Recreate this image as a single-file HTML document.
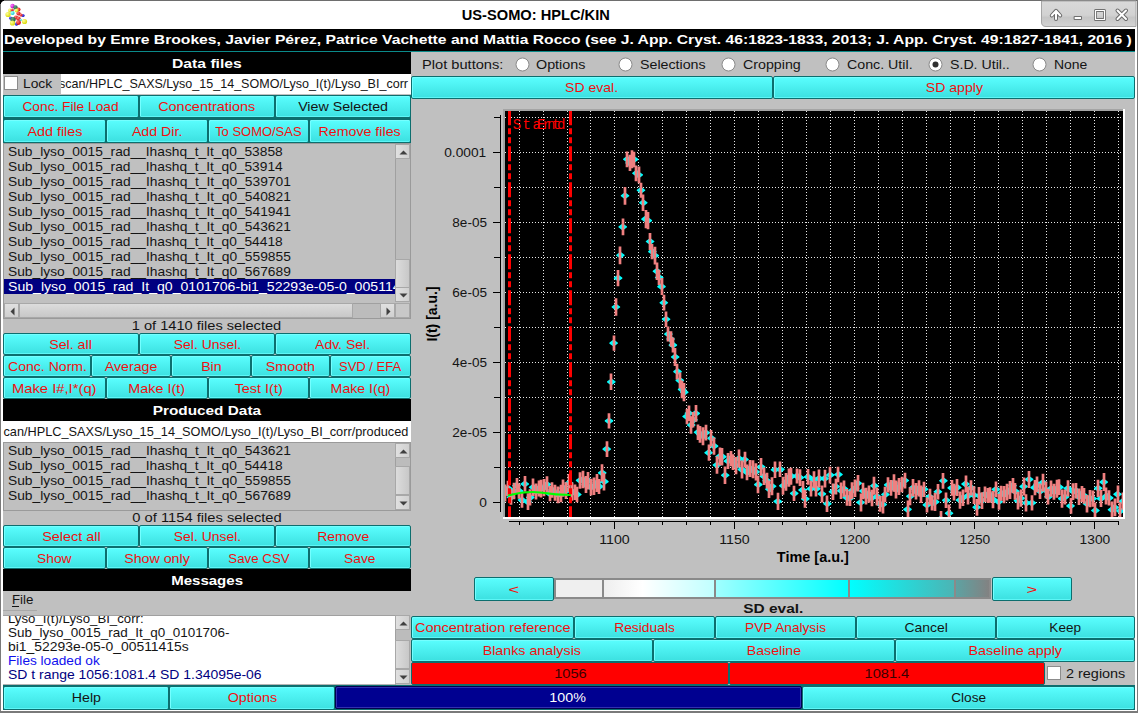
<!DOCTYPE html><html><head><meta charset="utf-8"><title>US-SOMO: HPLC/KIN</title><style>*{margin:0;padding:0}html,body{width:1138px;height:713px;overflow:hidden;background:#fff}
#r div{position:absolute}
.t{font-family:"Liberation Sans",sans-serif;white-space:pre}
</style></head><body><div id="r" style="position:relative;width:1138px;height:713px;overflow:hidden"><div style="left:0px;top:0px;width:1138px;height:713px;background:#fff;"></div>
<div style="left:3px;top:29px;width:1132px;height:681px;background:#c0c0c0;"></div>
<div style="left:0px;top:0px;width:1138px;height:1px;background:#6e6e6e;"></div>
<div style="left:0px;top:0px;width:1px;height:713px;background:#7a7a7a;"></div>
<div style="left:1137px;top:0px;width:1px;height:713px;background:#7a7a7a;"></div>
<div style="left:1136px;top:29px;width:1px;height:682px;background:#ffffff;"></div>
<div style="left:0px;top:711px;width:1138px;height:2px;background:#7a7a7a;"></div>
<div style="left:0px;top:0px;width:4px;height:1px;background:#000;"></div>
<div style="left:0px;top:1px;width:2px;height:1px;background:#000;"></div>
<div style="left:0px;top:2px;width:1px;height:2px;background:#000;"></div>
<div style="left:2px;top:1px;width:1px;height:1px;background:#888;"></div>
<div style="left:1px;top:2px;width:1px;height:1px;background:#888;"></div>
<svg width="1138" height="30" style="position:absolute;left:0;top:0"><defs><linearGradient id="tg" x1="0" y1="0" x2="0" y2="1"><stop offset="0" stop-color="#d9d9d9"/><stop offset="0.55" stop-color="#d2d2d2"/><stop offset="0.65" stop-color="#c6c6c6"/><stop offset="1" stop-color="#d4d4d4"/></linearGradient><radialGradient id="bY" cx="0.35" cy="0.35" r="0.7"><stop offset="0" stop-color="#ffff99"/><stop offset="1" stop-color="#d8d800"/></radialGradient><radialGradient id="bR" cx="0.35" cy="0.35" r="0.7"><stop offset="0" stop-color="#ff8080"/><stop offset="1" stop-color="#d00000"/></radialGradient><radialGradient id="bB" cx="0.35" cy="0.35" r="0.7"><stop offset="0" stop-color="#8080ff"/><stop offset="1" stop-color="#0000c0"/></radialGradient><radialGradient id="bG" cx="0.35" cy="0.35" r="0.7"><stop offset="0" stop-color="#60a080"/><stop offset="1" stop-color="#1f6040"/></radialGradient><radialGradient id="bC" cx="0.35" cy="0.35" r="0.7"><stop offset="0" stop-color="#b0ffff"/><stop offset="1" stop-color="#00c8c8"/></radialGradient><radialGradient id="bM" cx="0.35" cy="0.35" r="0.7"><stop offset="0" stop-color="#ff80ff"/><stop offset="1" stop-color="#c000c0"/></radialGradient></defs><path d="M1041.5 1 V22 Q1041.5 26.5 1046 26.5 H1136 V1 Z" fill="url(#tg)" stroke="#a6a6a6" stroke-width="1"/><g stroke-linejoin="round" stroke-linecap="round"><path d="M1051.8 15.5 L1056 10.8 L1060.2 15.5 M1056 11.5 V19" fill="none" stroke="#6a6a6a" stroke-width="4"/><path d="M1051.8 15.5 L1056 10.8 L1060.2 15.5 M1056 11.5 V19" fill="none" stroke="#ffffff" stroke-width="2"/><rect x="1074.5" y="16.5" width="7" height="3" fill="#fff" stroke="#707070" stroke-width="1"/><rect x="1095.5" y="10.5" width="9" height="9" fill="none" stroke="#707070" stroke-width="3"/><rect x="1095.5" y="10.5" width="9" height="9" fill="none" stroke="#ffffff" stroke-width="1.2"/><path d="M1117.5 10.5 L1126 19 M1126 10.5 L1117.5 19" stroke="#6a6a6a" stroke-width="4"/><path d="M1117.5 10.5 L1126 19 M1126 10.5 L1117.5 19" stroke="#ffffff" stroke-width="2"/></g><g><circle cx="12.5" cy="6" r="2.2" fill="url(#bM)"/><circle cx="15.5" cy="7.5" r="2.2" fill="url(#bG)"/><circle cx="18.5" cy="9.5" r="2" fill="url(#bR)"/><circle cx="10" cy="10.5" r="1.9" fill="url(#bY)"/><circle cx="16.5" cy="10.5" r="1.9" fill="url(#bY)"/><circle cx="12.2" cy="10" r="1.6" fill="url(#bR)"/><circle cx="12.5" cy="13" r="2.1" fill="url(#bC)"/><circle cx="8" cy="14.5" r="2.6" fill="url(#bY)"/><circle cx="18.5" cy="13.5" r="2.1" fill="url(#bR)"/><circle cx="23" cy="15.5" r="1.6" fill="url(#bB)"/><circle cx="21" cy="15" r="1.6" fill="url(#bR)"/><circle cx="10.5" cy="18" r="1.6" fill="url(#bB)"/><circle cx="16" cy="17.5" r="2.1" fill="url(#bR)"/><circle cx="13" cy="19.5" r="2.6" fill="url(#bG)"/><circle cx="18.5" cy="18.5" r="2.1" fill="url(#bR)"/><circle cx="20.5" cy="20" r="1.2" fill="url(#bC)"/><circle cx="24.5" cy="21.5" r="2.6" fill="url(#bY)"/><circle cx="12.5" cy="23" r="2.6" fill="url(#bY)"/><circle cx="16.5" cy="24" r="1.7" fill="url(#bB)"/><circle cx="18.5" cy="22.5" r="2.4" fill="url(#bR)"/></g></svg>
<div class="t" style="left:465.23px;top:6.65px;line-height:17px;font-size:14px;color:#000;transform:scaleX(1.0456);transform-origin:50% 0;font-weight:bold;">US-SOMO: HPLC/KIN</div>
<div style="left:3px;top:29px;width:1132px;height:22px;background:#000;"></div>
<div style="left:3px;top:51px;width:1132px;height:1px;background:#0a8a8a;"></div>
<div class="t" style="left:4px;top:32.2px;line-height:16px;font-size:13px;color:#fff;transform:scaleX(1.2056);transform-origin:0 0;font-weight:bold;">Developed by Emre Brookes, Javier Pérez, Patrice Vachette and Mattia Rocco (see J. App. Cryst. 46:1823-1833, 2013; J. App. Cryst. 49:1827-1841, 2016 )</div>
<div style="left:3px;top:52px;width:408px;height:22px;background:#000;"></div>
<div class="t" style="left:178.09px;top:55.7px;line-height:16px;font-size:13px;color:#fff;transform:scaleX(1.2059);transform-origin:50% 0;font-weight:bold;">Data files</div>
<div style="left:4px;top:76px;width:14px;height:14px;background:#fff;border:1px solid #8c8c8c;box-sizing:border-box;"></div>
<div class="t" style="left:23px;top:75.5px;line-height:16px;font-size:13px;color:#141414;transform:scaleX(1.0620);transform-origin:0 0;">Lock</div>
<div style="left:61px;top:74px;width:350px;height:20px;overflow:hidden;background:#fff;">
<div class="t" style="left:-15.08px;top:1.5px;line-height:16px;font-size:13px;color:#141414;transform:scaleX(0.9639);transform-origin:100% 0;">scan/HPLC_SAXS/Lyso_15_14_SOMO/Lyso_I(t)/Lyso_BI_corr</div>
</div>
<div style="left:3px;top:95px;width:408px;height:48px;background:#0c6e6e;"></div>
<div style="left:3px;top:95px;width:136px;height:23px;border:1px solid #0c6e6e;border-radius:2px;box-sizing:border-box;background:linear-gradient(#5afefe,#3ce0e0);box-shadow:inset 1px 1px 0 #74ffff, inset 0 -1px 0 #5cf6f6;"></div>
<div class="t" style="left:25.46px;top:99.2px;line-height:16px;font-size:13px;color:#f01010;transform:scaleX(1.0564);transform-origin:50% 0;">Conc. File Load</div>
<div style="left:139px;top:95px;width:136px;height:23px;border:1px solid #0c6e6e;border-radius:2px;box-sizing:border-box;background:linear-gradient(#5afefe,#3ce0e0);box-shadow:inset 1px 1px 0 #74ffff, inset 0 -1px 0 #5cf6f6;"></div>
<div class="t" style="left:163.27px;top:99.2px;line-height:16px;font-size:13px;color:#f01010;transform:scaleX(1.1113);transform-origin:50% 0;">Concentrations</div>
<div style="left:275px;top:95px;width:136px;height:23px;border:1px solid #0c6e6e;border-radius:2px;box-sizing:border-box;background:linear-gradient(#5afefe,#3ce0e0);box-shadow:inset 1px 1px 0 #74ffff, inset 0 -1px 0 #5cf6f6;"></div>
<div class="t" style="left:301.91px;top:99.2px;line-height:16px;font-size:13px;color:#141414;transform:scaleX(1.0943);transform-origin:50% 0;">View Selected</div>
<div style="left:3px;top:119px;width:103px;height:24px;border:1px solid #0c6e6e;border-radius:2px;box-sizing:border-box;background:linear-gradient(#5afefe,#3ce0e0);box-shadow:inset 1px 1px 0 #74ffff, inset 0 -1px 0 #5cf6f6;"></div>
<div class="t" style="left:29.56px;top:123.7px;line-height:16px;font-size:13px;color:#f01010;transform:scaleX(1.1031);transform-origin:50% 0;">Add files</div>
<div style="left:106px;top:119px;width:102px;height:24px;border:1px solid #0c6e6e;border-radius:2px;box-sizing:border-box;background:linear-gradient(#5afefe,#3ce0e0);box-shadow:inset 1px 1px 0 #74ffff, inset 0 -1px 0 #5cf6f6;"></div>
<div class="t" style="left:133.88px;top:123.7px;line-height:16px;font-size:13px;color:#f01010;transform:scaleX(1.0902);transform-origin:50% 0;">Add Dir.</div>
<div style="left:208px;top:119px;width:101px;height:24px;border:1px solid #0c6e6e;border-radius:2px;box-sizing:border-box;background:linear-gradient(#5afefe,#3ce0e0);box-shadow:inset 1px 1px 0 #74ffff, inset 0 -1px 0 #5cf6f6;"></div>
<div class="t" style="left:215.16px;top:123.7px;line-height:16px;font-size:13px;color:#f01010;transform:scaleX(0.9968);transform-origin:50% 0;">To SOMO/SAS</div>
<div style="left:309px;top:119px;width:102px;height:24px;border:1px solid #0c6e6e;border-radius:2px;box-sizing:border-box;background:linear-gradient(#5afefe,#3ce0e0);box-shadow:inset 1px 1px 0 #74ffff, inset 0 -1px 0 #5cf6f6;"></div>
<div class="t" style="left:322.42px;top:123.7px;line-height:16px;font-size:13px;color:#f01010;transform:scaleX(1.0933);transform-origin:50% 0;">Remove files</div>
<div style="left:3px;top:143px;width:408px;height:176px;background:#c0c0c0;border:1px solid #9a9a9a;box-sizing:border-box;"></div>
<div style="left:4px;top:144px;width:391px;height:158px;overflow:hidden;">
<div class="t" style="left:4px;top:-0px;line-height:16px;font-size:13px;color:#141414;transform:scaleX(1.0587);transform-origin:0 0;">Sub_lyso_0015_rad__Ihashq_t_It_q0_53858</div>
<div class="t" style="left:4px;top:15px;line-height:16px;font-size:13px;color:#141414;transform:scaleX(1.0587);transform-origin:0 0;">Sub_lyso_0015_rad__Ihashq_t_It_q0_53914</div>
<div class="t" style="left:4px;top:30px;line-height:16px;font-size:13px;color:#141414;transform:scaleX(1.0605);transform-origin:0 0;">Sub_lyso_0015_rad__Ihashq_t_It_q0_539701</div>
<div class="t" style="left:4px;top:45px;line-height:16px;font-size:13px;color:#141414;transform:scaleX(1.0605);transform-origin:0 0;">Sub_lyso_0015_rad__Ihashq_t_It_q0_540821</div>
<div class="t" style="left:4px;top:60px;line-height:16px;font-size:13px;color:#141414;transform:scaleX(1.0605);transform-origin:0 0;">Sub_lyso_0015_rad__Ihashq_t_It_q0_541941</div>
<div class="t" style="left:4px;top:75px;line-height:16px;font-size:13px;color:#141414;transform:scaleX(1.0605);transform-origin:0 0;">Sub_lyso_0015_rad__Ihashq_t_It_q0_543621</div>
<div class="t" style="left:4px;top:90px;line-height:16px;font-size:13px;color:#141414;transform:scaleX(1.0587);transform-origin:0 0;">Sub_lyso_0015_rad__Ihashq_t_It_q0_54418</div>
<div class="t" style="left:4px;top:105px;line-height:16px;font-size:13px;color:#141414;transform:scaleX(1.0605);transform-origin:0 0;">Sub_lyso_0015_rad__Ihashq_t_It_q0_559855</div>
<div class="t" style="left:4px;top:120px;line-height:16px;font-size:13px;color:#141414;transform:scaleX(1.0605);transform-origin:0 0;">Sub_lyso_0015_rad__Ihashq_t_It_q0_567689</div>
<div style="left:0px;top:135px;width:391px;height:15px;background:#000080;"></div>
<div class="t" style="left:4px;top:135px;line-height:16px;font-size:13px;color:#fff;transform:scaleX(1.0849);transform-origin:0 0;">Sub_lyso_0015_rad_It_q0_0101706-bi1_52293e-05-0_00511415s</div>
</div>
<div style="left:395px;top:144px;width:15px;height:158px;background:#bcbcbc;border-left:1px solid #a0a0a0;box-sizing:border-box;"></div>
<div style="left:395px;top:144px;width:15px;height:15px;background:linear-gradient(90deg,#e0e0e0,#d0d0d0);border:1px solid #a8a8a8;box-sizing:border-box;"><svg width="15" height="15" style="position:absolute;left:0;top:0"><path d="M3.5 9.5 L7.5 5.5 L11.5 9.5Z" fill="#404040"/></svg></div>
<div style="left:395px;top:287px;width:15px;height:15px;background:linear-gradient(90deg,#e0e0e0,#d0d0d0);border:1px solid #a8a8a8;box-sizing:border-box;"><svg width="15" height="15" style="position:absolute;left:0;top:0"><path d="M3.5 5.5 L7.5 9.5 L11.5 5.5Z" fill="#404040"/></svg></div>
<div style="left:395px;top:259px;width:15px;height:29px;background:linear-gradient(90deg,#dcdcdc,#c8c8c8);border:1px solid #a8a8a8;box-sizing:border-box;"></div>
<div style="left:4px;top:303px;width:391px;height:15px;background:#bcbcbc;border-top:1px solid #a0a0a0;box-sizing:border-box;"></div>
<div style="left:4px;top:303px;width:15px;height:15px;background:linear-gradient(#e0e0e0,#d0d0d0);border:1px solid #a8a8a8;box-sizing:border-box;"><svg width="15" height="15" style="position:absolute;left:0;top:0"><path d="M9.5 3.5 L5.5 7.5 L9.5 11.5Z" fill="#404040"/></svg></div>
<div style="left:19px;top:303px;width:334px;height:15px;background:linear-gradient(#dcdcdc,#c8c8c8);border:1px solid #a8a8a8;box-sizing:border-box;"></div>
<div style="left:380px;top:303px;width:15px;height:15px;background:linear-gradient(#e0e0e0,#d0d0d0);border:1px solid #a8a8a8;box-sizing:border-box;"><svg width="15" height="15" style="position:absolute;left:0;top:0"><path d="M5.5 3.5 L9.5 7.5 L5.5 11.5Z" fill="#404040"/></svg></div>
<div style="left:395px;top:303px;width:15px;height:15px;background:#c8c8c8;border:1px solid #a8a8a8;box-sizing:border-box;"></div>
<div class="t" style="left:140.49px;top:317.5px;line-height:16px;font-size:13px;color:#141414;transform:scaleX(1.1238);transform-origin:50% 0;">1 of 1410 files selected</div>
<div style="left:3px;top:333px;width:136px;height:22px;border:1px solid #0c6e6e;border-radius:2px;box-sizing:border-box;background:linear-gradient(#5afefe,#3ce0e0);box-shadow:inset 1px 1px 0 #74ffff, inset 0 -1px 0 #5cf6f6;"></div>
<div class="t" style="left:51.48px;top:336.7px;line-height:16px;font-size:13px;color:#f01010;transform:scaleX(1.0929);transform-origin:50% 0;">Sel. all</div>
<div style="left:139px;top:333px;width:136px;height:22px;border:1px solid #0c6e6e;border-radius:2px;box-sizing:border-box;background:linear-gradient(#5afefe,#3ce0e0);box-shadow:inset 1px 1px 0 #74ffff, inset 0 -1px 0 #5cf6f6;"></div>
<div class="t" style="left:175.56px;top:336.7px;line-height:16px;font-size:13px;color:#f01010;transform:scaleX(1.0708);transform-origin:50% 0;">Sel. Unsel.</div>
<div style="left:275px;top:333px;width:136px;height:22px;border:1px solid #0c6e6e;border-radius:2px;box-sizing:border-box;background:linear-gradient(#5afefe,#3ce0e0);box-shadow:inset 1px 1px 0 #74ffff, inset 0 -1px 0 #5cf6f6;"></div>
<div class="t" style="left:317.47px;top:336.7px;line-height:16px;font-size:13px;color:#f01010;transform:scaleX(1.0768);transform-origin:50% 0;">Adv. Sel.</div>
<div style="left:3px;top:355px;width:88px;height:22px;border:1px solid #0c6e6e;border-radius:2px;box-sizing:border-box;background:linear-gradient(#5afefe,#3ce0e0);box-shadow:inset 1px 1px 0 #74ffff, inset 0 -1px 0 #5cf6f6;"></div>
<div class="t" style="left:10.52px;top:358.7px;line-height:16px;font-size:13px;color:#f01010;transform:scaleX(1.0829);transform-origin:50% 0;">Conc. Norm.</div>
<div style="left:91px;top:355px;width:80px;height:22px;border:1px solid #0c6e6e;border-radius:2px;box-sizing:border-box;background:linear-gradient(#5afefe,#3ce0e0);box-shadow:inset 1px 1px 0 #74ffff, inset 0 -1px 0 #5cf6f6;"></div>
<div class="t" style="left:106.9px;top:358.7px;line-height:16px;font-size:13px;color:#f01010;transform:scaleX(1.0904);transform-origin:50% 0;">Average</div>
<div style="left:171px;top:355px;width:80px;height:22px;border:1px solid #0c6e6e;border-radius:2px;box-sizing:border-box;background:linear-gradient(#5afefe,#3ce0e0);box-shadow:inset 1px 1px 0 #74ffff, inset 0 -1px 0 #5cf6f6;"></div>
<div class="t" style="left:201.6px;top:358.7px;line-height:16px;font-size:13px;color:#f01010;transform:scaleX(1.0881);transform-origin:50% 0;">Bin</div>
<div style="left:251px;top:355px;width:79px;height:22px;border:1px solid #0c6e6e;border-radius:2px;box-sizing:border-box;background:linear-gradient(#5afefe,#3ce0e0);box-shadow:inset 1px 1px 0 #74ffff, inset 0 -1px 0 #5cf6f6;"></div>
<div class="t" style="left:268.09px;top:358.7px;line-height:16px;font-size:13px;color:#f01010;transform:scaleX(1.1018);transform-origin:50% 0;">Smooth</div>
<div style="left:330px;top:355px;width:81px;height:22px;border:1px solid #0c6e6e;border-radius:2px;box-sizing:border-box;background:linear-gradient(#5afefe,#3ce0e0);box-shadow:inset 1px 1px 0 #74ffff, inset 0 -1px 0 #5cf6f6;"></div>
<div class="t" style="left:339.44px;top:358.7px;line-height:16px;font-size:13px;color:#f01010;transform:scaleX(1.0010);transform-origin:50% 0;">SVD / EFA</div>
<div style="left:3px;top:377px;width:103px;height:22px;border:1px solid #0c6e6e;border-radius:2px;box-sizing:border-box;background:linear-gradient(#5afefe,#3ce0e0);box-shadow:inset 1px 1px 0 #74ffff, inset 0 -1px 0 #5cf6f6;"></div>
<div class="t" style="left:17.29px;top:380.7px;line-height:16px;font-size:13px;color:#f01010;transform:scaleX(1.1375);transform-origin:50% 0;">Make I#,I*(q)</div>
<div style="left:106px;top:377px;width:102px;height:22px;border:1px solid #0c6e6e;border-radius:2px;box-sizing:border-box;background:linear-gradient(#5afefe,#3ce0e0);box-shadow:inset 1px 1px 0 #74ffff, inset 0 -1px 0 #5cf6f6;"></div>
<div class="t" style="left:131.36px;top:380.7px;line-height:16px;font-size:13px;color:#f01010;transform:scaleX(1.1033);transform-origin:50% 0;">Make I(t)</div>
<div style="left:208px;top:377px;width:101px;height:22px;border:1px solid #0c6e6e;border-radius:2px;box-sizing:border-box;background:linear-gradient(#5afefe,#3ce0e0);box-shadow:inset 1px 1px 0 #74ffff, inset 0 -1px 0 #5cf6f6;"></div>
<div class="t" style="left:236.84px;top:380.7px;line-height:16px;font-size:13px;color:#f01010;transform:scaleX(1.1093);transform-origin:50% 0;">Test I(t)</div>
<div style="left:309px;top:377px;width:102px;height:22px;border:1px solid #0c6e6e;border-radius:2px;box-sizing:border-box;background:linear-gradient(#5afefe,#3ce0e0);box-shadow:inset 1px 1px 0 #74ffff, inset 0 -1px 0 #5cf6f6;"></div>
<div class="t" style="left:332.55px;top:380.7px;line-height:16px;font-size:13px;color:#f01010;transform:scaleX(1.0871);transform-origin:50% 0;">Make I(q)</div>
<div style="left:3px;top:399px;width:408px;height:22px;background:#000;"></div>
<div class="t" style="left:161.12px;top:402.7px;line-height:16px;font-size:13px;color:#fff;transform:scaleX(1.1809);transform-origin:50% 0;font-weight:bold;">Produced Data</div>
<div style="left:3px;top:421px;width:408px;height:21px;overflow:hidden;background:#fff;">
<div class="t" style="left:-8.42px;top:2.5px;line-height:16px;font-size:13px;color:#141414;transform:scaleX(0.9796);transform-origin:100% 0;">can/HPLC_SAXS/Lyso_15_14_SOMO/Lyso_I(t)/Lyso_BI_corr/produced</div>
</div>
<div style="left:3px;top:442px;width:408px;height:69px;background:#c0c0c0;border:1px solid #9a9a9a;box-sizing:border-box;"></div>
<div style="left:4px;top:443px;width:391px;height:67px;overflow:hidden;">
<div class="t" style="left:4px;top:-0px;line-height:16px;font-size:13px;color:#141414;transform:scaleX(1.0605);transform-origin:0 0;">Sub_lyso_0015_rad__Ihashq_t_It_q0_543621</div>
<div class="t" style="left:4px;top:15px;line-height:16px;font-size:13px;color:#141414;transform:scaleX(1.0587);transform-origin:0 0;">Sub_lyso_0015_rad__Ihashq_t_It_q0_54418</div>
<div class="t" style="left:4px;top:30px;line-height:16px;font-size:13px;color:#141414;transform:scaleX(1.0605);transform-origin:0 0;">Sub_lyso_0015_rad__Ihashq_t_It_q0_559855</div>
<div class="t" style="left:4px;top:45px;line-height:16px;font-size:13px;color:#141414;transform:scaleX(1.0605);transform-origin:0 0;">Sub_lyso_0015_rad__Ihashq_t_It_q0_567689</div>
</div>
<div style="left:395px;top:443px;width:15px;height:67px;background:#bcbcbc;border-left:1px solid #a0a0a0;box-sizing:border-box;"></div>
<div style="left:395px;top:443px;width:15px;height:15px;background:linear-gradient(90deg,#e0e0e0,#d0d0d0);border:1px solid #a8a8a8;box-sizing:border-box;"><svg width="15" height="15" style="position:absolute;left:0;top:0"><path d="M3.5 9.5 L7.5 5.5 L11.5 9.5Z" fill="#404040"/></svg></div>
<div style="left:395px;top:495px;width:15px;height:15px;background:linear-gradient(90deg,#e0e0e0,#d0d0d0);border:1px solid #a8a8a8;box-sizing:border-box;"><svg width="15" height="15" style="position:absolute;left:0;top:0"><path d="M3.5 5.5 L7.5 9.5 L11.5 5.5Z" fill="#404040"/></svg></div>
<div style="left:395px;top:466px;width:15px;height:29px;background:linear-gradient(90deg,#dcdcdc,#c8c8c8);border:1px solid #a8a8a8;box-sizing:border-box;"></div>
<div class="t" style="left:140.98px;top:509.5px;line-height:16px;font-size:13px;color:#141414;transform:scaleX(1.1321);transform-origin:50% 0;">0 of 1154 files selected</div>
<div style="left:3px;top:525px;width:136px;height:22px;border:1px solid #0c6e6e;border-radius:2px;box-sizing:border-box;background:linear-gradient(#5afefe,#3ce0e0);box-shadow:inset 1px 1px 0 #74ffff, inset 0 -1px 0 #5cf6f6;"></div>
<div class="t" style="left:44.62px;top:528.7px;line-height:16px;font-size:13px;color:#f01010;transform:scaleX(1.1090);transform-origin:50% 0;">Select all</div>
<div style="left:139px;top:525px;width:136px;height:22px;border:1px solid #0c6e6e;border-radius:2px;box-sizing:border-box;background:linear-gradient(#5afefe,#3ce0e0);box-shadow:inset 1px 1px 0 #74ffff, inset 0 -1px 0 #5cf6f6;"></div>
<div class="t" style="left:175.56px;top:528.7px;line-height:16px;font-size:13px;color:#f01010;transform:scaleX(1.0708);transform-origin:50% 0;">Sel. Unsel.</div>
<div style="left:275px;top:525px;width:136px;height:22px;border:1px solid #0c6e6e;border-radius:2px;box-sizing:border-box;background:linear-gradient(#5afefe,#3ce0e0);box-shadow:inset 1px 1px 0 #74ffff, inset 0 -1px 0 #5cf6f6;"></div>
<div class="t" style="left:318.79px;top:528.7px;line-height:16px;font-size:13px;color:#f01010;transform:scaleX(1.0726);transform-origin:50% 0;">Remove</div>
<div style="left:3px;top:547px;width:103px;height:22px;border:1px solid #0c6e6e;border-radius:2px;box-sizing:border-box;background:linear-gradient(#5afefe,#3ce0e0);box-shadow:inset 1px 1px 0 #74ffff, inset 0 -1px 0 #5cf6f6;"></div>
<div class="t" style="left:38.23px;top:550.7px;line-height:16px;font-size:13px;color:#f01010;transform:scaleX(1.0615);transform-origin:50% 0;">Show</div>
<div style="left:106px;top:547px;width:102px;height:22px;border:1px solid #0c6e6e;border-radius:2px;box-sizing:border-box;background:linear-gradient(#5afefe,#3ce0e0);box-shadow:inset 1px 1px 0 #74ffff, inset 0 -1px 0 #5cf6f6;"></div>
<div class="t" style="left:127px;top:550.7px;line-height:16px;font-size:13px;color:#f01010;transform:scaleX(1.0945);transform-origin:50% 0;">Show only</div>
<div style="left:208px;top:547px;width:101px;height:22px;border:1px solid #0c6e6e;border-radius:2px;box-sizing:border-box;background:linear-gradient(#5afefe,#3ce0e0);box-shadow:inset 1px 1px 0 #74ffff, inset 0 -1px 0 #5cf6f6;"></div>
<div class="t" style="left:228.51px;top:550.7px;line-height:16px;font-size:13px;color:#f01010;transform:scaleX(1.0219);transform-origin:50% 0;">Save CSV</div>
<div style="left:309px;top:547px;width:102px;height:22px;border:1px solid #0c6e6e;border-radius:2px;box-sizing:border-box;background:linear-gradient(#5afefe,#3ce0e0);box-shadow:inset 1px 1px 0 #74ffff, inset 0 -1px 0 #5cf6f6;"></div>
<div class="t" style="left:345.18px;top:550.7px;line-height:16px;font-size:13px;color:#f01010;transform:scaleX(1.0601);transform-origin:50% 0;">Save</div>
<div style="left:3px;top:569px;width:408px;height:22px;background:#000;"></div>
<div class="t" style="left:175.91px;top:572.7px;line-height:16px;font-size:13px;color:#fff;transform:scaleX(1.1556);transform-origin:50% 0;font-weight:bold;">Messages</div>
<div class="t" style="left:12px;top:591.5px;line-height:16px;font-size:13px;color:#141414;transform:scaleX(1.0224);transform-origin:0 0;">File</div>
<div style="left:12px;top:606px;width:7px;height:1px;background:#141414;"></div>
<div style="left:3px;top:610px;width:34px;height:1px;background:#a8a8a8;"></div>
<div style="left:3px;top:615px;width:392px;height:70px;overflow:hidden;background:#fff;border-top:1px solid #a0a0a0;box-sizing:border-box;">
<div class="t" style="left:5px;top:-4.6px;line-height:16px;font-size:13px;color:#141414;transform:scaleX(1.0167);transform-origin:0 0;">Lyso_I(t)/Lyso_BI_corr:</div>
<div class="t" style="left:5px;top:9.3px;line-height:16px;font-size:13px;color:#141414;transform:scaleX(1.0355);transform-origin:0 0;">Sub_lyso_0015_rad_It_q0_0101706-</div>
<div class="t" style="left:5px;top:23.2px;line-height:16px;font-size:13px;color:#141414;transform:scaleX(1.0702);transform-origin:0 0;">bi1_52293e-05-0_00511415s</div>
<div class="t" style="left:5px;top:37.1px;line-height:16px;font-size:13px;color:#1010ee;transform:scaleX(1.0489);transform-origin:0 0;">Files loaded ok</div>
<div class="t" style="left:5px;top:51px;line-height:16px;font-size:13px;color:#000080;transform:scaleX(1.0730);transform-origin:0 0;">SD t range 1056:1081.4 SD 1.34095e-06</div>
</div>
<div style="left:395px;top:615px;width:16px;height:70px;background:#bcbcbc;border-left:1px solid #a0a0a0;box-sizing:border-box;"></div>
<div style="left:395px;top:615px;width:15px;height:15px;background:linear-gradient(90deg,#e0e0e0,#d0d0d0);border:1px solid #a8a8a8;box-sizing:border-box;"><svg width="15" height="15" style="position:absolute;left:0;top:0"><path d="M3.5 9.5 L7.5 5.5 L11.5 9.5Z" fill="#404040"/></svg></div>
<div style="left:395px;top:640px;width:15px;height:29px;background:linear-gradient(90deg,#dcdcdc,#c8c8c8);border:1px solid #a8a8a8;box-sizing:border-box;"></div>
<div style="left:395px;top:669px;width:15px;height:15px;background:linear-gradient(90deg,#e0e0e0,#d0d0d0);border:1px solid #a8a8a8;box-sizing:border-box;"><svg width="15" height="15" style="position:absolute;left:0;top:0"><path d="M3.5 5.5 L7.5 9.5 L11.5 5.5Z" fill="#404040"/></svg></div>
<div style="left:3px;top:685px;width:1132px;height:25px;background:#0c6e6e;"></div>
<div style="left:3px;top:684px;width:392px;height:1px;background:#b4b4b4;"></div>
<div style="left:3px;top:685.5px;width:166px;height:24px;border:1px solid #0c6e6e;border-radius:2px;box-sizing:border-box;background:linear-gradient(#5afefe,#3ce0e0);box-shadow:inset 1px 1px 0 #74ffff, inset 0 -1px 0 #5cf6f6;"></div>
<div class="t" style="left:72.62px;top:690.2px;line-height:16px;font-size:13px;color:#141414;transform:scaleX(1.0911);transform-origin:50% 0;">Help</div>
<div style="left:169px;top:685.5px;width:166px;height:24px;border:1px solid #0c6e6e;border-radius:2px;box-sizing:border-box;background:linear-gradient(#5afefe,#3ce0e0);box-shadow:inset 1px 1px 0 #74ffff, inset 0 -1px 0 #5cf6f6;"></div>
<div class="t" style="left:229.59px;top:690.2px;line-height:16px;font-size:13px;color:#f01010;transform:scaleX(1.1022);transform-origin:50% 0;">Options</div>
<div style="left:335px;top:686px;width:467px;height:23px;background:#000090;border:1px solid #000050;box-shadow:inset 1px 1px 0 #3030b0, inset -1px -1px 0 #3030b0;box-sizing:border-box;border-radius:2px;"></div>
<div class="t" style="left:551.37px;top:689.5px;line-height:16px;font-size:13px;color:#fff;transform:scaleX(1.0996);transform-origin:50% 0;">100%</div>
<div style="left:802px;top:685.5px;width:333px;height:24px;border:1px solid #0c6e6e;border-radius:2px;box-sizing:border-box;background:linear-gradient(#5afefe,#3ce0e0);box-shadow:inset 1px 1px 0 #74ffff, inset 0 -1px 0 #5cf6f6;"></div>
<div class="t" style="left:951.88px;top:690.2px;line-height:16px;font-size:13px;color:#141414;transform:scaleX(1.0489);transform-origin:50% 0;">Close</div>
<div class="t" style="left:422px;top:56.5px;line-height:16px;font-size:13px;color:#141414;transform:scaleX(1.1258);transform-origin:0 0;">Plot buttons:</div>
<div style="left:515.5px;top:58px;width:13px;height:13px;"><svg width="15" height="15" style="position:absolute;left:-1px;top:-1px"><circle cx="7.5" cy="7.5" r="6.5" fill="#fff" stroke="#8a8a8a" stroke-width="1"/></svg></div>
<div class="t" style="left:536px;top:56.5px;line-height:16px;font-size:13px;color:#141414;transform:scaleX(1.1022);transform-origin:0 0;">Options</div>
<div style="left:619.4px;top:58px;width:13px;height:13px;"><svg width="15" height="15" style="position:absolute;left:-1px;top:-1px"><circle cx="7.5" cy="7.5" r="6.5" fill="#fff" stroke="#8a8a8a" stroke-width="1"/></svg></div>
<div class="t" style="left:639.9px;top:56.5px;line-height:16px;font-size:13px;color:#141414;transform:scaleX(1.0943);transform-origin:0 0;">Selections</div>
<div style="left:722.4px;top:58px;width:13px;height:13px;"><svg width="15" height="15" style="position:absolute;left:-1px;top:-1px"><circle cx="7.5" cy="7.5" r="6.5" fill="#fff" stroke="#8a8a8a" stroke-width="1"/></svg></div>
<div class="t" style="left:742.9px;top:56.5px;line-height:16px;font-size:13px;color:#141414;transform:scaleX(1.0950);transform-origin:0 0;">Cropping</div>
<div style="left:826.2px;top:58px;width:13px;height:13px;"><svg width="15" height="15" style="position:absolute;left:-1px;top:-1px"><circle cx="7.5" cy="7.5" r="6.5" fill="#fff" stroke="#8a8a8a" stroke-width="1"/></svg></div>
<div class="t" style="left:846.7px;top:56.5px;line-height:16px;font-size:13px;color:#141414;transform:scaleX(1.0938);transform-origin:0 0;">Conc. Util.</div>
<div style="left:929.4px;top:58px;width:13px;height:13px;"><svg width="15" height="15" style="position:absolute;left:-1px;top:-1px"><circle cx="7.5" cy="7.5" r="6.5" fill="#fff" stroke="#8a8a8a" stroke-width="1"/><circle cx="7.5" cy="7.5" r="3" fill="#303030"/></svg></div>
<div class="t" style="left:949.9px;top:56.5px;line-height:16px;font-size:13px;color:#141414;transform:scaleX(1.0894);transform-origin:0 0;">S.D. Util..</div>
<div style="left:1033.2px;top:58px;width:13px;height:13px;"><svg width="15" height="15" style="position:absolute;left:-1px;top:-1px"><circle cx="7.5" cy="7.5" r="6.5" fill="#fff" stroke="#8a8a8a" stroke-width="1"/></svg></div>
<div class="t" style="left:1053.7px;top:56.5px;line-height:16px;font-size:13px;color:#141414;transform:scaleX(1.0739);transform-origin:0 0;">None</div>
<div style="left:411px;top:76px;width:362px;height:23px;border:1px solid #0c6e6e;border-radius:2px;box-sizing:border-box;background:linear-gradient(#5afefe,#3ce0e0);box-shadow:inset 1px 1px 0 #74ffff, inset 0 -1px 0 #5cf6f6;"></div>
<div class="t" style="left:567.43px;top:80.2px;line-height:16px;font-size:13px;color:#f01010;transform:scaleX(1.0779);transform-origin:50% 0;">SD eval.</div>
<div style="left:773px;top:76px;width:362px;height:23px;border:1px solid #0c6e6e;border-radius:2px;box-sizing:border-box;background:linear-gradient(#5afefe,#3ce0e0);box-shadow:inset 1px 1px 0 #74ffff, inset 0 -1px 0 #5cf6f6;"></div>
<div class="t" style="left:927.62px;top:80.2px;line-height:16px;font-size:13px;color:#f01010;transform:scaleX(1.0856);transform-origin:50% 0;">SD apply</div>
<div style="left:474px;top:577px;width:80px;height:24px;border:1px solid #0c6e6e;border-radius:2px;box-sizing:border-box;background:linear-gradient(#5afefe,#3ce0e0);box-shadow:inset 1px 1px 0 #74ffff, inset 0 -1px 0 #5cf6f6;"></div>
<div class="t" style="left:510.2px;top:581.7px;line-height:16px;font-size:13px;color:#f01010;transform:scaleX(1.4115);transform-origin:50% 0;">&lt;</div>
<div style="left:554px;top:578px;width:437px;height:21px;background:#8a8a8a;"></div>
<div style="left:556px;top:580px;width:46px;height:17px;background:#efefef;"></div>
<div style="left:604px;top:580px;width:110px;height:17px;background:linear-gradient(90deg,#eeeeee,#ffffff 35%,#c0ffff);"></div>
<div style="left:716px;top:580px;width:132px;height:17px;background:linear-gradient(90deg,#a0ffff,#00ffff);"></div>
<div style="left:850px;top:580px;width:104px;height:17px;background:linear-gradient(90deg,#00ffff,#4cb4b4);"></div>
<div style="left:956px;top:580px;width:33px;height:17px;background:linear-gradient(90deg,#5ea2a2,#828282);"></div>
<div style="left:992px;top:577px;width:80px;height:24px;border:1px solid #0c6e6e;border-radius:2px;box-sizing:border-box;background:linear-gradient(#5afefe,#3ce0e0);box-shadow:inset 1px 1px 0 #74ffff, inset 0 -1px 0 #5cf6f6;"></div>
<div class="t" style="left:1028.2px;top:581.7px;line-height:16px;font-size:13px;color:#f01010;transform:scaleX(1.4115);transform-origin:50% 0;">&gt;</div>
<div class="t" style="left:747.7px;top:601px;line-height:16px;font-size:13px;color:#141414;transform:scaleX(1.1884);transform-origin:50% 0;font-weight:bold;">SD eval.</div>
<div style="left:411px;top:616px;width:163px;height:23px;border:1px solid #0c6e6e;border-radius:2px;box-sizing:border-box;background:linear-gradient(#5afefe,#3ce0e0);box-shadow:inset 1px 1px 0 #74ffff, inset 0 -1px 0 #5cf6f6;"></div>
<div class="t" style="left:422.74px;top:620.2px;line-height:16px;font-size:13px;color:#f01010;transform:scaleX(1.1160);transform-origin:50% 0;">Concentration reference</div>
<div style="left:574px;top:616px;width:141px;height:23px;border:1px solid #0c6e6e;border-radius:2px;box-sizing:border-box;background:linear-gradient(#5afefe,#3ce0e0);box-shadow:inset 1px 1px 0 #74ffff, inset 0 -1px 0 #5cf6f6;"></div>
<div class="t" style="left:615.95px;top:620.2px;line-height:16px;font-size:13px;color:#f01010;transform:scaleX(1.0635);transform-origin:50% 0;">Residuals</div>
<div style="left:715px;top:616px;width:141px;height:23px;border:1px solid #0c6e6e;border-radius:2px;box-sizing:border-box;background:linear-gradient(#5afefe,#3ce0e0);box-shadow:inset 1px 1px 0 #74ffff, inset 0 -1px 0 #5cf6f6;"></div>
<div class="t" style="left:746.95px;top:620.2px;line-height:16px;font-size:13px;color:#f01010;transform:scaleX(1.0507);transform-origin:50% 0;">PVP Analysis</div>
<div style="left:856px;top:616px;width:140px;height:23px;border:1px solid #0c6e6e;border-radius:2px;box-sizing:border-box;background:linear-gradient(#5afefe,#3ce0e0);box-shadow:inset 1px 1px 0 #74ffff, inset 0 -1px 0 #5cf6f6;"></div>
<div class="t" style="left:905.76px;top:620.2px;line-height:16px;font-size:13px;color:#141414;transform:scaleX(1.0710);transform-origin:50% 0;">Cancel</div>
<div style="left:996px;top:616px;width:139px;height:23px;border:1px solid #0c6e6e;border-radius:2px;box-sizing:border-box;background:linear-gradient(#5afefe,#3ce0e0);box-shadow:inset 1px 1px 0 #74ffff, inset 0 -1px 0 #5cf6f6;"></div>
<div class="t" style="left:1050.31px;top:620.2px;line-height:16px;font-size:13px;color:#141414;transform:scaleX(1.0412);transform-origin:50% 0;">Keep</div>
<div style="left:411px;top:639px;width:242px;height:23px;border:1px solid #0c6e6e;border-radius:2px;box-sizing:border-box;background:linear-gradient(#5afefe,#3ce0e0);box-shadow:inset 1px 1px 0 #74ffff, inset 0 -1px 0 #5cf6f6;"></div>
<div class="t" style="left:487.19px;top:643.2px;line-height:16px;font-size:13px;color:#f01010;transform:scaleX(1.0966);transform-origin:50% 0;">Blanks analysis</div>
<div style="left:653px;top:639px;width:242px;height:23px;border:1px solid #0c6e6e;border-radius:2px;box-sizing:border-box;background:linear-gradient(#5afefe,#3ce0e0);box-shadow:inset 1px 1px 0 #74ffff, inset 0 -1px 0 #5cf6f6;"></div>
<div class="t" style="left:749.05px;top:643.2px;line-height:16px;font-size:13px;color:#f01010;transform:scaleX(1.0880);transform-origin:50% 0;">Baseline</div>
<div style="left:895px;top:639px;width:240px;height:23px;border:1px solid #0c6e6e;border-radius:2px;box-sizing:border-box;background:linear-gradient(#5afefe,#3ce0e0);box-shadow:inset 1px 1px 0 #74ffff, inset 0 -1px 0 #5cf6f6;"></div>
<div class="t" style="left:972.7px;top:643.2px;line-height:16px;font-size:13px;color:#f01010;transform:scaleX(1.1062);transform-origin:50% 0;">Baseline apply</div>
<div style="left:411px;top:662px;width:318px;height:23px;border:1px solid #0c6e6e;border-radius:2px;box-sizing:border-box;background:#ff0000;"></div>
<div class="t" style="left:555.53px;top:666.2px;line-height:16px;font-size:13px;color:#3a0000;transform:scaleX(1.1253);transform-origin:50% 0;">1056</div>
<div style="left:729px;top:662px;width:316px;height:23px;border:1px solid #0c6e6e;border-radius:2px;box-sizing:border-box;background:#ff0000;"></div>
<div class="t" style="left:867.11px;top:666.2px;line-height:16px;font-size:13px;color:#3a0000;transform:scaleX(1.1253);transform-origin:50% 0;">1081.4</div>
<div style="left:1047px;top:666px;width:14px;height:14px;background:#fff;border:1px solid #8c8c8c;box-sizing:border-box;"></div>
<div class="t" style="left:1066px;top:665.5px;line-height:16px;font-size:13px;color:#141414;transform:scaleX(1.1095);transform-origin:0 0;">2 regions</div>
<svg width="1138" height="713" style="position:absolute;left:0;top:0" font-family="Liberation Sans, sans-serif">
<rect x="503" y="109" width="622" height="410" fill="#ffffff"/>
<rect x="503" y="109" width="620" height="2" fill="#a4a4a4"/>
<rect x="503" y="109" width="2" height="408" fill="#a4a4a4"/>
<rect x="505" y="111" width="618" height="406" fill="#000"/>
<svg x="505" y="111" width="618" height="406" viewBox="505 111 618 406" overflow="hidden">
<path d="M505 117.5H1123 M505 152.5H1123 M505 187.5H1123 M505 222.5H1123 M505 257.5H1123 M505 292.5H1123 M505 327.5H1123 M505 362.5H1123 M505 397.5H1123 M505 432.5H1123 M505 467.5H1123 M505 502.5H1123 M519.5 111V517 M543.5 111V517 M567.5 111V517 M590.5 111V517 M614.5 111V517 M638.5 111V517 M662.5 111V517 M686.5 111V517 M710.5 111V517 M734.5 111V517 M758.5 111V517 M782.5 111V517 M806.5 111V517 M830.5 111V517 M854.5 111V517 M878.5 111V517 M902.5 111V517 M926.5 111V517 M950.5 111V517 M974.5 111V517 M998.5 111V517 M1022.5 111V517 M1046.5 111V517 M1070.5 111V517 M1094.5 111V517 M1118.5 111V517" stroke="#e6e6e6" stroke-width="1" stroke-dasharray="1 2" fill="none" shape-rendering="crispEdges"/>
<path d="M501.9 493.0l3.6 -2.7 3.6 2.7 -3.6 2.7z M504.6 488.4l3.6 -2.7 3.6 2.7 -3.6 2.7z M507.4 497.2l3.6 -2.7 3.6 2.7 -3.6 2.7z M510.2 491.0l3.6 -2.7 3.6 2.7 -3.6 2.7z M512.9 485.6l3.6 -2.7 3.6 2.7 -3.6 2.7z M515.7 491.1l3.6 -2.7 3.6 2.7 -3.6 2.7z M518.4 500.0l3.6 -2.7 3.6 2.7 -3.6 2.7z M521.2 484.0l3.6 -2.7 3.6 2.7 -3.6 2.7z M524.0 501.7l3.6 -2.7 3.6 2.7 -3.6 2.7z M526.7 497.4l3.6 -2.7 3.6 2.7 -3.6 2.7z M529.5 487.2l3.6 -2.7 3.6 2.7 -3.6 2.7z M532.3 491.6l3.6 -2.7 3.6 2.7 -3.6 2.7z M535.0 488.4l3.6 -2.7 3.6 2.7 -3.6 2.7z M537.8 488.6l3.6 -2.7 3.6 2.7 -3.6 2.7z M540.5 487.6l3.6 -2.7 3.6 2.7 -3.6 2.7z M543.3 484.4l3.6 -2.7 3.6 2.7 -3.6 2.7z M546.1 493.6l3.6 -2.7 3.6 2.7 -3.6 2.7z M548.8 490.0l3.6 -2.7 3.6 2.7 -3.6 2.7z M551.6 492.7l3.6 -2.7 3.6 2.7 -3.6 2.7z M554.4 494.8l3.6 -2.7 3.6 2.7 -3.6 2.7z M557.1 493.5l3.6 -2.7 3.6 2.7 -3.6 2.7z M559.9 488.1l3.6 -2.7 3.6 2.7 -3.6 2.7z M562.7 490.5l3.6 -2.7 3.6 2.7 -3.6 2.7z M565.4 483.0l3.6 -2.7 3.6 2.7 -3.6 2.7z M568.2 491.6l3.6 -2.7 3.6 2.7 -3.6 2.7z M570.9 492.3l3.6 -2.7 3.6 2.7 -3.6 2.7z M573.7 494.5l3.6 -2.7 3.6 2.7 -3.6 2.7z M576.5 480.4l3.6 -2.7 3.6 2.7 -3.6 2.7z M579.2 479.6l3.6 -2.7 3.6 2.7 -3.6 2.7z M582.0 484.6l3.6 -2.7 3.6 2.7 -3.6 2.7z M584.8 480.7l3.6 -2.7 3.6 2.7 -3.6 2.7z M587.5 487.2l3.6 -2.7 3.6 2.7 -3.6 2.7z M590.3 486.3l3.6 -2.7 3.6 2.7 -3.6 2.7z M593.0 482.9l3.6 -2.7 3.6 2.7 -3.6 2.7z M595.8 486.5l3.6 -2.7 3.6 2.7 -3.6 2.7z M598.6 472.9l3.6 -2.7 3.6 2.7 -3.6 2.7z M600.8 481.6l3.6 -2.7 3.6 2.7 -3.6 2.7z M603.1 449.1l3.6 -2.7 3.6 2.7 -3.6 2.7z M605.4 420.9l3.6 -2.7 3.6 2.7 -3.6 2.7z M607.7 381.9l3.6 -2.7 3.6 2.7 -3.6 2.7z M610.0 343.1l3.6 -2.7 3.6 2.7 -3.6 2.7z M612.3 307.0l3.6 -2.7 3.6 2.7 -3.6 2.7z M614.5 278.1l3.6 -2.7 3.6 2.7 -3.6 2.7z M616.8 255.3l3.6 -2.7 3.6 2.7 -3.6 2.7z M619.1 226.9l3.6 -2.7 3.6 2.7 -3.6 2.7z M621.4 195.8l3.6 -2.7 3.6 2.7 -3.6 2.7z M623.7 159.3l3.6 -2.7 3.6 2.7 -3.6 2.7z M626.0 162.9l3.6 -2.7 3.6 2.7 -3.6 2.7z M628.2 159.3l3.6 -2.7 3.6 2.7 -3.6 2.7z M630.5 159.4l3.6 -2.7 3.6 2.7 -3.6 2.7z M632.8 173.3l3.6 -2.7 3.6 2.7 -3.6 2.7z M635.1 174.9l3.6 -2.7 3.6 2.7 -3.6 2.7z M637.4 190.2l3.6 -2.7 3.6 2.7 -3.6 2.7z M639.7 202.7l3.6 -2.7 3.6 2.7 -3.6 2.7z M641.9 219.1l3.6 -2.7 3.6 2.7 -3.6 2.7z M644.2 220.6l3.6 -2.7 3.6 2.7 -3.6 2.7z M646.5 241.5l3.6 -2.7 3.6 2.7 -3.6 2.7z M648.8 251.6l3.6 -2.7 3.6 2.7 -3.6 2.7z M651.1 255.6l3.6 -2.7 3.6 2.7 -3.6 2.7z M653.3 271.3l3.6 -2.7 3.6 2.7 -3.6 2.7z M655.6 277.5l3.6 -2.7 3.6 2.7 -3.6 2.7z M657.9 286.6l3.6 -2.7 3.6 2.7 -3.6 2.7z M660.2 302.7l3.6 -2.7 3.6 2.7 -3.6 2.7z M662.5 319.2l3.6 -2.7 3.6 2.7 -3.6 2.7z M664.8 334.1l3.6 -2.7 3.6 2.7 -3.6 2.7z M667.0 339.0l3.6 -2.7 3.6 2.7 -3.6 2.7z M669.3 345.1l3.6 -2.7 3.6 2.7 -3.6 2.7z M671.6 357.0l3.6 -2.7 3.6 2.7 -3.6 2.7z M673.9 371.6l3.6 -2.7 3.6 2.7 -3.6 2.7z M676.2 380.4l3.6 -2.7 3.6 2.7 -3.6 2.7z M678.5 389.4l3.6 -2.7 3.6 2.7 -3.6 2.7z M680.7 392.2l3.6 -2.7 3.6 2.7 -3.6 2.7z M683.0 416.5l3.6 -2.7 3.6 2.7 -3.6 2.7z M685.3 413.2l3.6 -2.7 3.6 2.7 -3.6 2.7z M687.6 425.0l3.6 -2.7 3.6 2.7 -3.6 2.7z M689.9 419.9l3.6 -2.7 3.6 2.7 -3.6 2.7z M692.1 413.4l3.6 -2.7 3.6 2.7 -3.6 2.7z M694.4 432.3l3.6 -2.7 3.6 2.7 -3.6 2.7z M696.7 434.4l3.6 -2.7 3.6 2.7 -3.6 2.7z M699.5 436.3l3.6 -2.7 3.6 2.7 -3.6 2.7z M702.2 432.7l3.6 -2.7 3.6 2.7 -3.6 2.7z M705.0 452.7l3.6 -2.7 3.6 2.7 -3.6 2.7z M707.8 438.3l3.6 -2.7 3.6 2.7 -3.6 2.7z M710.5 446.1l3.6 -2.7 3.6 2.7 -3.6 2.7z M713.3 465.0l3.6 -2.7 3.6 2.7 -3.6 2.7z M716.0 456.5l3.6 -2.7 3.6 2.7 -3.6 2.7z M718.8 456.8l3.6 -2.7 3.6 2.7 -3.6 2.7z M721.6 475.3l3.6 -2.7 3.6 2.7 -3.6 2.7z M724.3 461.1l3.6 -2.7 3.6 2.7 -3.6 2.7z M727.1 458.6l3.6 -2.7 3.6 2.7 -3.6 2.7z M729.9 462.1l3.6 -2.7 3.6 2.7 -3.6 2.7z M732.6 465.7l3.6 -2.7 3.6 2.7 -3.6 2.7z M735.4 458.6l3.6 -2.7 3.6 2.7 -3.6 2.7z M738.2 469.5l3.6 -2.7 3.6 2.7 -3.6 2.7z M740.9 459.5l3.6 -2.7 3.6 2.7 -3.6 2.7z M743.7 472.4l3.6 -2.7 3.6 2.7 -3.6 2.7z M746.4 468.5l3.6 -2.7 3.6 2.7 -3.6 2.7z M749.2 469.3l3.6 -2.7 3.6 2.7 -3.6 2.7z M752.0 471.9l3.6 -2.7 3.6 2.7 -3.6 2.7z M754.7 484.6l3.6 -2.7 3.6 2.7 -3.6 2.7z M757.5 466.9l3.6 -2.7 3.6 2.7 -3.6 2.7z M760.3 476.3l3.6 -2.7 3.6 2.7 -3.6 2.7z M763.0 480.6l3.6 -2.7 3.6 2.7 -3.6 2.7z M765.8 489.2l3.6 -2.7 3.6 2.7 -3.6 2.7z M768.5 486.3l3.6 -2.7 3.6 2.7 -3.6 2.7z M771.3 469.8l3.6 -2.7 3.6 2.7 -3.6 2.7z M774.1 501.4l3.6 -2.7 3.6 2.7 -3.6 2.7z M776.8 469.4l3.6 -2.7 3.6 2.7 -3.6 2.7z M779.6 485.8l3.6 -2.7 3.6 2.7 -3.6 2.7z M782.4 481.9l3.6 -2.7 3.6 2.7 -3.6 2.7z M785.1 477.6l3.6 -2.7 3.6 2.7 -3.6 2.7z M787.9 476.2l3.6 -2.7 3.6 2.7 -3.6 2.7z M790.6 493.4l3.6 -2.7 3.6 2.7 -3.6 2.7z M793.4 476.1l3.6 -2.7 3.6 2.7 -3.6 2.7z M796.2 477.6l3.6 -2.7 3.6 2.7 -3.6 2.7z M798.9 490.0l3.6 -2.7 3.6 2.7 -3.6 2.7z M801.7 498.9l3.6 -2.7 3.6 2.7 -3.6 2.7z M804.5 476.9l3.6 -2.7 3.6 2.7 -3.6 2.7z M807.2 488.7l3.6 -2.7 3.6 2.7 -3.6 2.7z M810.0 479.6l3.6 -2.7 3.6 2.7 -3.6 2.7z M812.8 488.7l3.6 -2.7 3.6 2.7 -3.6 2.7z M815.5 478.4l3.6 -2.7 3.6 2.7 -3.6 2.7z M818.3 493.9l3.6 -2.7 3.6 2.7 -3.6 2.7z M821.0 478.6l3.6 -2.7 3.6 2.7 -3.6 2.7z M823.8 503.8l3.6 -2.7 3.6 2.7 -3.6 2.7z M826.6 475.1l3.6 -2.7 3.6 2.7 -3.6 2.7z M829.3 491.8l3.6 -2.7 3.6 2.7 -3.6 2.7z M832.1 486.6l3.6 -2.7 3.6 2.7 -3.6 2.7z M834.9 474.5l3.6 -2.7 3.6 2.7 -3.6 2.7z M837.6 490.7l3.6 -2.7 3.6 2.7 -3.6 2.7z M840.4 488.7l3.6 -2.7 3.6 2.7 -3.6 2.7z M843.1 497.4l3.6 -2.7 3.6 2.7 -3.6 2.7z M845.9 498.4l3.6 -2.7 3.6 2.7 -3.6 2.7z M848.7 490.6l3.6 -2.7 3.6 2.7 -3.6 2.7z M851.4 488.3l3.6 -2.7 3.6 2.7 -3.6 2.7z M854.2 483.2l3.6 -2.7 3.6 2.7 -3.6 2.7z M857.0 502.4l3.6 -2.7 3.6 2.7 -3.6 2.7z M859.7 491.0l3.6 -2.7 3.6 2.7 -3.6 2.7z M862.5 496.1l3.6 -2.7 3.6 2.7 -3.6 2.7z M865.2 494.1l3.6 -2.7 3.6 2.7 -3.6 2.7z M868.0 498.0l3.6 -2.7 3.6 2.7 -3.6 2.7z M870.8 485.8l3.6 -2.7 3.6 2.7 -3.6 2.7z M873.5 496.6l3.6 -2.7 3.6 2.7 -3.6 2.7z M876.3 503.9l3.6 -2.7 3.6 2.7 -3.6 2.7z M879.1 504.5l3.6 -2.7 3.6 2.7 -3.6 2.7z M881.8 494.5l3.6 -2.7 3.6 2.7 -3.6 2.7z M884.6 484.9l3.6 -2.7 3.6 2.7 -3.6 2.7z M887.3 487.9l3.6 -2.7 3.6 2.7 -3.6 2.7z M890.1 483.0l3.6 -2.7 3.6 2.7 -3.6 2.7z M892.9 489.6l3.6 -2.7 3.6 2.7 -3.6 2.7z M895.6 486.5l3.6 -2.7 3.6 2.7 -3.6 2.7z M898.4 484.4l3.6 -2.7 3.6 2.7 -3.6 2.7z M901.2 480.5l3.6 -2.7 3.6 2.7 -3.6 2.7z M903.9 509.4l3.6 -2.7 3.6 2.7 -3.6 2.7z M906.7 496.3l3.6 -2.7 3.6 2.7 -3.6 2.7z M909.5 487.8l3.6 -2.7 3.6 2.7 -3.6 2.7z M912.2 491.2l3.6 -2.7 3.6 2.7 -3.6 2.7z M915.0 488.4l3.6 -2.7 3.6 2.7 -3.6 2.7z M917.7 494.2l3.6 -2.7 3.6 2.7 -3.6 2.7z M920.5 489.3l3.6 -2.7 3.6 2.7 -3.6 2.7z M923.3 504.9l3.6 -2.7 3.6 2.7 -3.6 2.7z M926.0 496.7l3.6 -2.7 3.6 2.7 -3.6 2.7z M928.8 503.0l3.6 -2.7 3.6 2.7 -3.6 2.7z M931.6 501.9l3.6 -2.7 3.6 2.7 -3.6 2.7z M934.3 491.7l3.6 -2.7 3.6 2.7 -3.6 2.7z M937.1 519.0l3.6 -2.7 3.6 2.7 -3.6 2.7z M939.8 480.8l3.6 -2.7 3.6 2.7 -3.6 2.7z M942.6 500.3l3.6 -2.7 3.6 2.7 -3.6 2.7z M945.4 513.3l3.6 -2.7 3.6 2.7 -3.6 2.7z M948.1 487.9l3.6 -2.7 3.6 2.7 -3.6 2.7z M950.9 492.1l3.6 -2.7 3.6 2.7 -3.6 2.7z M953.7 487.5l3.6 -2.7 3.6 2.7 -3.6 2.7z M956.4 500.1l3.6 -2.7 3.6 2.7 -3.6 2.7z M959.2 497.8l3.6 -2.7 3.6 2.7 -3.6 2.7z M961.9 484.0l3.6 -2.7 3.6 2.7 -3.6 2.7z M964.7 495.6l3.6 -2.7 3.6 2.7 -3.6 2.7z M967.5 487.8l3.6 -2.7 3.6 2.7 -3.6 2.7z M970.2 495.1l3.6 -2.7 3.6 2.7 -3.6 2.7z M973.0 507.3l3.6 -2.7 3.6 2.7 -3.6 2.7z M975.8 495.8l3.6 -2.7 3.6 2.7 -3.6 2.7z M978.5 500.5l3.6 -2.7 3.6 2.7 -3.6 2.7z M981.3 494.2l3.6 -2.7 3.6 2.7 -3.6 2.7z M984.0 495.5l3.6 -2.7 3.6 2.7 -3.6 2.7z M986.8 495.0l3.6 -2.7 3.6 2.7 -3.6 2.7z M989.6 499.6l3.6 -2.7 3.6 2.7 -3.6 2.7z M992.3 489.4l3.6 -2.7 3.6 2.7 -3.6 2.7z M995.1 501.7l3.6 -2.7 3.6 2.7 -3.6 2.7z M997.9 493.2l3.6 -2.7 3.6 2.7 -3.6 2.7z M1000.6 494.6l3.6 -2.7 3.6 2.7 -3.6 2.7z M1003.4 492.1l3.6 -2.7 3.6 2.7 -3.6 2.7z M1006.2 490.1l3.6 -2.7 3.6 2.7 -3.6 2.7z M1008.9 485.6l3.6 -2.7 3.6 2.7 -3.6 2.7z M1011.7 491.4l3.6 -2.7 3.6 2.7 -3.6 2.7z M1014.4 500.6l3.6 -2.7 3.6 2.7 -3.6 2.7z M1017.2 498.2l3.6 -2.7 3.6 2.7 -3.6 2.7z M1020.0 486.5l3.6 -2.7 3.6 2.7 -3.6 2.7z M1022.7 502.9l3.6 -2.7 3.6 2.7 -3.6 2.7z M1025.5 479.4l3.6 -2.7 3.6 2.7 -3.6 2.7z M1028.3 502.9l3.6 -2.7 3.6 2.7 -3.6 2.7z M1031.0 487.6l3.6 -2.7 3.6 2.7 -3.6 2.7z M1033.8 484.4l3.6 -2.7 3.6 2.7 -3.6 2.7z M1036.5 491.2l3.6 -2.7 3.6 2.7 -3.6 2.7z M1039.3 482.6l3.6 -2.7 3.6 2.7 -3.6 2.7z M1042.1 490.0l3.6 -2.7 3.6 2.7 -3.6 2.7z M1044.8 496.7l3.6 -2.7 3.6 2.7 -3.6 2.7z M1047.6 488.6l3.6 -2.7 3.6 2.7 -3.6 2.7z M1050.4 491.8l3.6 -2.7 3.6 2.7 -3.6 2.7z M1053.1 488.8l3.6 -2.7 3.6 2.7 -3.6 2.7z M1055.9 487.2l3.6 -2.7 3.6 2.7 -3.6 2.7z M1058.6 498.6l3.6 -2.7 3.6 2.7 -3.6 2.7z M1061.4 496.9l3.6 -2.7 3.6 2.7 -3.6 2.7z M1064.2 488.4l3.6 -2.7 3.6 2.7 -3.6 2.7z M1066.9 505.9l3.6 -2.7 3.6 2.7 -3.6 2.7z M1069.7 491.5l3.6 -2.7 3.6 2.7 -3.6 2.7z M1072.5 490.8l3.6 -2.7 3.6 2.7 -3.6 2.7z M1075.2 496.7l3.6 -2.7 3.6 2.7 -3.6 2.7z M1078.0 494.0l3.6 -2.7 3.6 2.7 -3.6 2.7z M1080.7 495.9l3.6 -2.7 3.6 2.7 -3.6 2.7z M1083.5 503.8l3.6 -2.7 3.6 2.7 -3.6 2.7z M1086.3 498.7l3.6 -2.7 3.6 2.7 -3.6 2.7z M1089.0 498.6l3.6 -2.7 3.6 2.7 -3.6 2.7z M1091.8 510.5l3.6 -2.7 3.6 2.7 -3.6 2.7z M1094.6 488.3l3.6 -2.7 3.6 2.7 -3.6 2.7z M1097.3 498.6l3.6 -2.7 3.6 2.7 -3.6 2.7z M1100.1 482.1l3.6 -2.7 3.6 2.7 -3.6 2.7z M1102.9 496.1l3.6 -2.7 3.6 2.7 -3.6 2.7z M1105.6 497.9l3.6 -2.7 3.6 2.7 -3.6 2.7z M1108.4 509.7l3.6 -2.7 3.6 2.7 -3.6 2.7z M1111.1 507.4l3.6 -2.7 3.6 2.7 -3.6 2.7z M1113.9 494.3l3.6 -2.7 3.6 2.7 -3.6 2.7z M1116.7 510.9l3.6 -2.7 3.6 2.7 -3.6 2.7z M1119.4 501.2l3.6 -2.7 3.6 2.7 -3.6 2.7z" fill="#00ffff" stroke="#00ffff" stroke-width="1.4" stroke-linejoin="round"/>
<path d="M505 484.4V501.5 M508 480.7V496.0 M511 489.6V504.8 M514 482.7V499.3 M517 478.0V493.2 M519 483.5V498.8 M522 492.3V507.7 M525 476.1V491.8 M528 493.3V510.1 M530 489.3V505.6 M533 478.4V496.1 M536 483.6V499.5 M539 480.4V496.4 M541 479.8V497.4 M544 479.1V496.2 M547 476.3V492.5 M550 486.0V501.2 M552 482.2V497.8 M555 484.7V500.7 M558 486.4V503.3 M561 484.7V502.3 M563 479.5V496.7 M566 482.2V498.9 M569 474.1V491.9 M572 482.6V500.7 M575 484.6V499.9 M577 486.8V502.3 M580 472.2V488.7 M583 470.8V488.3 M586 476.1V493.0 M588 472.1V489.4 M591 478.7V495.6 M594 477.4V495.1 M597 473.9V491.9 M599 478.9V494.1 M602 464.3V481.6 M604 472.8V490.4 M607 441.2V457.1 M609 413.3V428.4 M611 373.6V390.1 M614 335.5V350.7 M616 298.3V315.7 M618 270.0V286.2 M620 246.4V264.2 M623 218.6V235.3 M625 186.9V204.7 M627 151.4V167.3 M630 154.8V171.1 M632 150.3V168.3 M634 151.7V167.2 M636 165.4V181.2 M639 166.6V183.2 M641 182.7V197.7 M643 194.5V210.9 M646 210.1V228.2 M648 211.9V229.2 M650 233.0V250.1 M652 244.0V259.2 M655 246.7V264.5 M657 262.5V280.1 M659 269.8V285.1 M662 278.1V295.1 M664 294.8V310.5 M666 311.4V327.0 M668 326.6V341.6 M671 331.3V346.8 M673 337.6V352.6 M675 348.1V365.9 M677 363.7V379.5 M680 372.4V388.5 M682 380.6V398.3 M684 383.1V401.3 M687 408.9V424.2 M689 405.5V420.9 M691 416.2V433.8 M693 412.1V427.6 M696 405.0V421.7 M698 424.5V440.0 M700 426.1V442.8 M703 427.2V445.3 M706 424.8V440.6 M709 444.6V460.8 M711 429.9V446.6 M714 437.4V454.8 M717 456.2V473.8 M720 447.4V465.5 M722 448.0V465.6 M725 466.6V484.0 M728 453.0V469.1 M731 451.1V466.2 M733 454.2V470.0 M736 457.1V474.3 M739 449.6V467.6 M742 460.4V478.6 M745 451.7V467.4 M747 464.5V480.2 M750 460.0V477.0 M753 460.3V478.2 M756 463.3V480.4 M758 475.8V493.3 M761 457.9V475.8 M764 467.5V485.0 M767 472.8V488.4 M769 480.4V497.9 M772 477.2V495.3 M775 461.6V477.9 M778 492.7V510.0 M780 461.6V477.1 M783 476.8V494.7 M786 473.1V490.7 M789 468.5V486.7 M791 467.7V484.8 M794 485.7V501.1 M797 468.6V483.6 M800 469.2V485.9 M803 481.0V499.0 M805 490.1V507.7 M808 469.0V484.7 M811 480.8V496.6 M814 471.2V488.1 M816 481.0V496.5 M819 469.4V487.4 M822 485.5V502.4 M825 469.7V487.6 M827 495.5V512.1 M830 466.7V483.4 M833 483.6V500.0 M836 478.8V494.4 M838 466.7V482.2 M841 482.4V499.0 M844 480.6V496.7 M847 489.0V505.7 M850 490.7V506.0 M852 482.2V499.0 M855 479.5V497.0 M858 474.9V491.5 M861 493.5V511.4 M863 482.8V499.2 M866 487.8V504.4 M869 485.5V502.7 M872 489.7V506.2 M874 476.8V494.8 M877 487.6V505.6 M880 496.0V511.8 M883 495.7V513.4 M885 486.8V502.2 M888 477.3V492.6 M891 480.0V495.8 M894 474.3V491.8 M896 480.6V498.5 M899 477.9V495.0 M902 476.7V492.2 M905 472.7V488.4 M908 500.4V518.4 M910 487.2V505.3 M913 478.9V496.6 M916 482.9V499.6 M919 480.3V496.4 M921 485.6V502.9 M924 481.8V496.9 M927 497.4V512.4 M930 488.7V504.7 M932 495.4V510.6 M935 492.8V511.0 M938 484.1V499.4 M941 511.1V526.9 M943 472.9V488.7 M946 492.6V508.0 M949 504.5V522.1 M952 479.9V495.8 M954 483.7V500.5 M957 478.9V496.1 M960 491.5V508.7 M963 489.6V506.0 M966 475.4V492.5 M968 486.8V504.4 M971 480.2V495.4 M974 486.3V504.0 M977 498.9V515.7 M979 486.9V504.8 M982 492.2V508.9 M985 486.4V502.1 M988 487.9V503.1 M990 487.2V502.8 M993 490.9V508.3 M996 481.4V497.3 M999 493.7V509.8 M1001 485.7V500.7 M1004 485.9V503.2 M1007 483.7V500.5 M1010 481.1V499.1 M1013 477.9V493.3 M1015 483.1V499.7 M1018 491.8V509.5 M1021 489.6V506.8 M1024 477.4V495.6 M1026 494.3V511.5 M1029 470.9V487.9 M1032 495.3V510.5 M1035 479.9V495.3 M1037 476.5V492.3 M1040 483.4V498.9 M1043 473.7V491.5 M1046 481.4V498.6 M1048 488.7V504.6 M1051 480.4V496.8 M1054 483.8V499.7 M1057 479.8V497.8 M1059 479.3V495.1 M1062 489.6V507.7 M1065 489.4V504.4 M1068 480.3V496.5 M1071 498.1V513.8 M1073 483.2V499.9 M1076 483.1V498.4 M1079 488.6V504.9 M1082 486.0V502.0 M1084 488.0V503.7 M1087 495.1V512.5 M1090 490.1V507.2 M1093 490.5V506.7 M1095 502.4V518.5 M1098 479.7V497.0 M1101 490.1V507.1 M1104 473.1V491.0 M1106 487.6V504.6 M1109 490.2V505.6 M1112 501.4V518.1 M1115 498.6V516.2 M1118 485.5V503.1 M1120 502.3V519.5 M1123 492.6V509.8" stroke="#f08080" stroke-width="2.7" fill="none"/>
<path d="M508 495.5 C520 492.5 530 491 540 492.5 S560 495 571 495" stroke="#00ff00" stroke-width="2.2" fill="none"/>
<line x1="509.5" y1="110.3" x2="509.5" y2="520" stroke="#ff0000" stroke-width="3" stroke-dasharray="15 3 6 3 6 3"/>
<line x1="570.5" y1="110.3" x2="570.5" y2="520" stroke="#ff0000" stroke-width="3" stroke-dasharray="15 3 6 3 6 3"/>
<text x="512.7" y="129" fill="#ff0000" font-family="Liberation Mono, monospace" font-size="14" textLength="48" lengthAdjust="spacing">Start</text>
<text x="537" y="129" fill="#ff0000" font-family="Liberation Mono, monospace" font-size="14" textLength="28.5" lengthAdjust="spacing">End</text>
</svg>
<path d="M509 521.5H1118 M519.5 521V524.5 M543.5 521V524.5 M567.5 521V524.5 M590.5 521V524.5 M614.5 521V528.5 M638.5 521V524.5 M662.5 521V524.5 M686.5 521V524.5 M710.5 521V524.5 M734.5 521V528.5 M758.5 521V524.5 M782.5 521V524.5 M806.5 521V524.5 M830.5 521V524.5 M854.5 521V528.5 M878.5 521V524.5 M902.5 521V524.5 M926.5 521V524.5 M950.5 521V524.5 M974.5 521V528.5 M998.5 521V524.5 M1022.5 521V524.5 M1046.5 521V524.5 M1070.5 521V524.5 M1094.5 521V528.5 M1118.5 521V524.5 M500.5 114.7V511.7 M492.5 502.5H501 M494.0 467.5H501 M492.5 432.5H501 M494.0 397.5H501 M492.5 362.5H501 M494.0 327.5H501 M492.5 292.5H501 M494.0 257.5H501 M492.5 222.5H501 M494.0 187.5H501 M492.5 152.5H501 M494.0 117.5H501" stroke="#000" stroke-width="1" fill="none" shape-rendering="crispEdges"/>
</svg>
<div class="t" style="left:601.05px;top:533.17px;line-height:15px;font-size:12.5px;color:#141414;transform:scaleX(1.1365);transform-origin:50% 0;">1100</div>
<div class="t" style="left:721.05px;top:533.17px;line-height:15px;font-size:12.5px;color:#141414;transform:scaleX(1.1365);transform-origin:50% 0;">1150</div>
<div class="t" style="left:840.59px;top:533.17px;line-height:15px;font-size:12.5px;color:#141414;transform:scaleX(1.0989);transform-origin:50% 0;">1200</div>
<div class="t" style="left:960.59px;top:533.17px;line-height:15px;font-size:12.5px;color:#141414;transform:scaleX(1.0989);transform-origin:50% 0;">1250</div>
<div class="t" style="left:1080.59px;top:533.17px;line-height:15px;font-size:12.5px;color:#141414;transform:scaleX(1.0989);transform-origin:50% 0;">1300</div>
<div class="t" style="left:479.55px;top:495.97px;line-height:15px;font-size:12.5px;color:#141414;transform:scaleX(1.0989);transform-origin:100% 0;">0</div>
<div class="t" style="left:454.53px;top:425.97px;line-height:15px;font-size:12.5px;color:#141414;transform:scaleX(1.0836);transform-origin:100% 0;">2e-05</div>
<div class="t" style="left:454.53px;top:355.97px;line-height:15px;font-size:12.5px;color:#141414;transform:scaleX(1.0836);transform-origin:100% 0;">4e-05</div>
<div class="t" style="left:454.53px;top:285.97px;line-height:15px;font-size:12.5px;color:#141414;transform:scaleX(1.0836);transform-origin:100% 0;">6e-05</div>
<div class="t" style="left:454.53px;top:215.97px;line-height:15px;font-size:12.5px;color:#141414;transform:scaleX(1.0836);transform-origin:100% 0;">8e-05</div>
<div class="t" style="left:448.27px;top:145.97px;line-height:15px;font-size:12.5px;color:#141414;transform:scaleX(1.0989);transform-origin:100% 0;">0.0001</div>
<div class="t" style="left:778.03px;top:549.15px;line-height:17px;font-size:14px;color:#000;transform:scaleX(1.0325);transform-origin:50% 0;font-weight:bold;">Time [a.u.]</div>
<div class="t" style="left:392.0px;top:306.0px;font-size:14px;font-weight:bold;line-height:16px;color:#000;transform:rotate(-90deg);transform-origin:50% 50%;width:80px;text-align:center">I(t) [a.u.]</div></div></body></html>
